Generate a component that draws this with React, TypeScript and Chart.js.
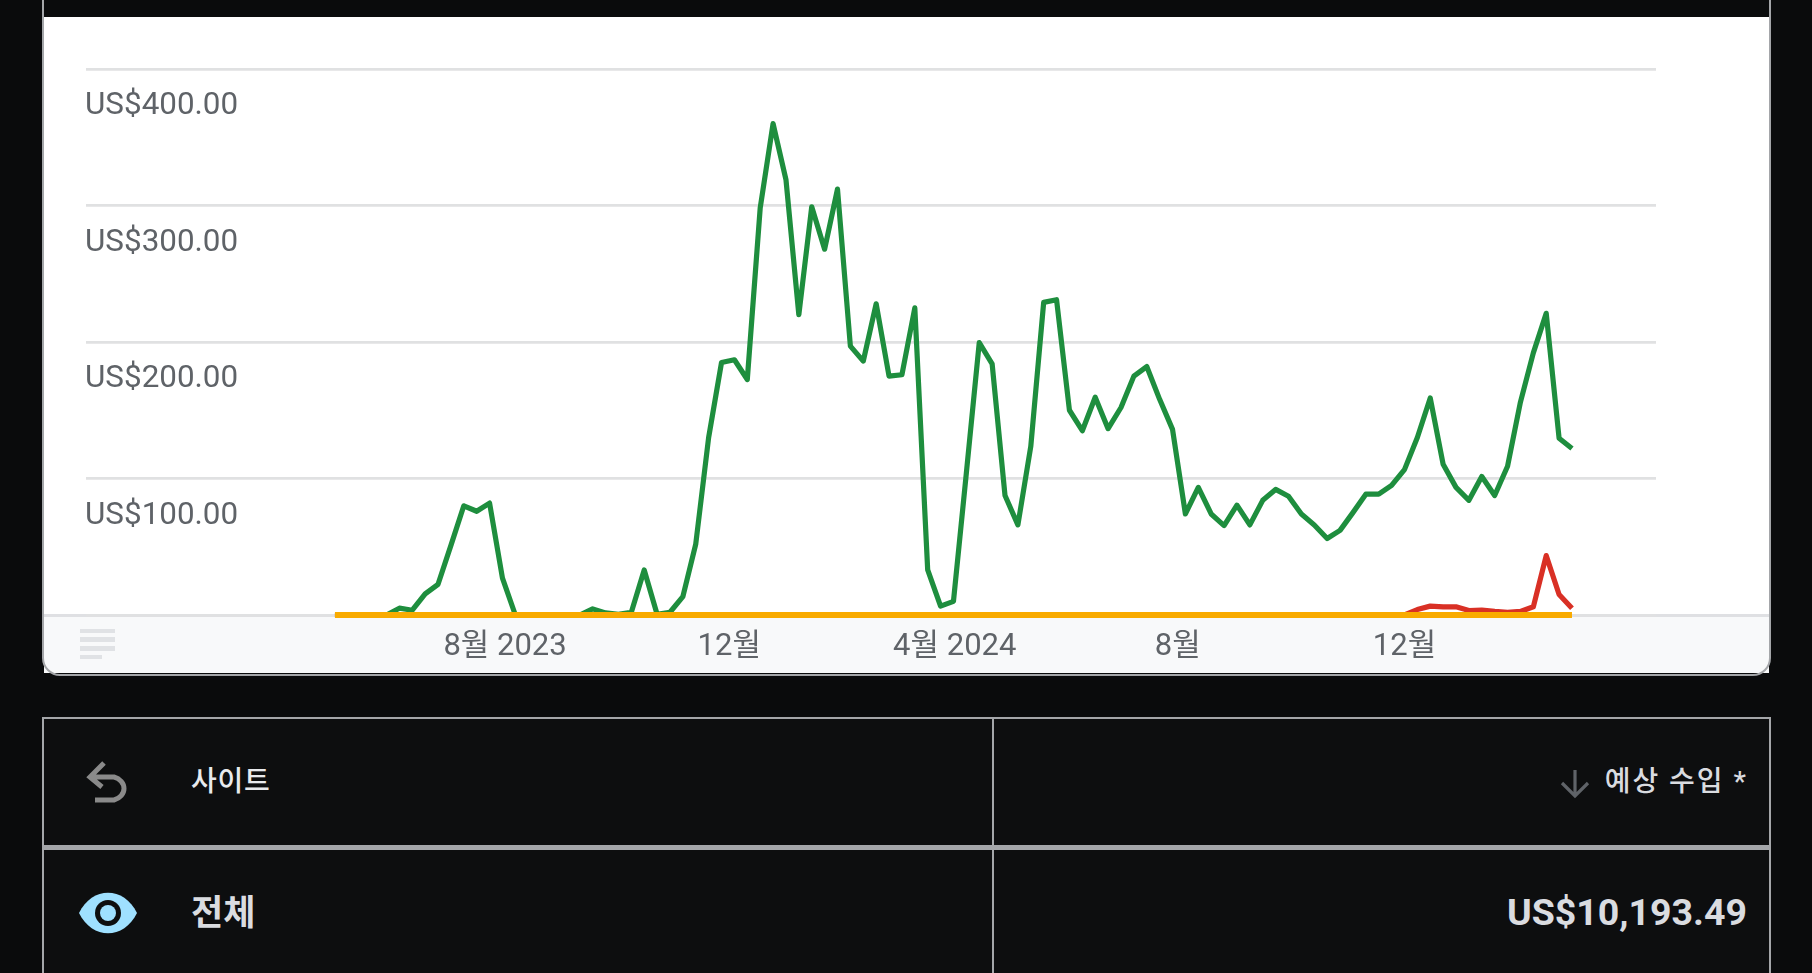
import React, { useEffect, useRef } from "react";
import { Chart, registerables } from "chart.js";

Chart.register(...registerables);

const greenValues = [
  0, 0, 0, 0, 0, 5, 3.5, 15.5, 22.5, 51, 80, 76, 82, 27, 0, 0, 0, 0, 0, 0,
  4.5, 1.5, 0.5, 2, 33, 0.5, 2, 13.5, 52, 130, 185, 187, 172.5, 298, 360, 319, 220, 299, 268, 312,
  197, 186, 228, 175, 176, 225, 33, 6.5, 10, 104, 199.5, 184, 87.5, 66, 123.5, 229, 231, 150, 135, 159.5,
  136.5, 152, 175, 182, 158, 136, 74, 93.5, 74, 65.5, 80.5, 66, 84, 92, 87, 74, 66, 56, 62, 75,
  88.5, 88.5, 95, 106.5, 130, 159, 110.5, 93.5, 84, 101.5, 87.5, 109, 156, 192, 221, 129.5, 122,
];
const redValues = [
  0, 0, 0, 0, 0, 0, 0, 0, 0, 0, 0, 0, 0, 0, 0, 0, 0, 0, 0, 0,
  0, 0, 0, 0, 0, 0, 0, 0, 0, 0, 0, 0, 0, 0, 0, 0, 0, 0, 0, 0,
  0, 0, 0, 0, 0, 0, 0, 0, 0, 0, 0, 0, 0, 0, 0, 0, 0, 0, 0, 0,
  0, 0, 0, 0, 0, 0, 0, 0, 0, 0, 0, 0, 0, 0, 0, 0, 0, 0, 0, 0,
  0, 0, 0, 0, 4, 6.5, 6, 6, 3.3, 3.6, 2.6, 2, 2.6, 6, 43.5, 15, 5,
];
const orangeValues = [
  0, 0, 0, 0, 0, 0, 0, 0, 0, 0, 0, 0, 0, 0, 0, 0, 0, 0, 0, 0,
  0, 0, 0, 0, 0, 0, 0, 0, 0, 0, 0, 0, 0, 0, 0, 0, 0, 0, 0, 0,
  0, 0, 0, 0, 0, 0, 0, 0, 0, 0, 0, 0, 0, 0, 0, 0, 0, 0, 0, 0,
  0, 0, 0, 0, 0, 0, 0, 0, 0, 0, 0, 0, 0, 0, 0, 0, 0, 0, 0, 0,
  0, 0, 0, 0, 0, 0, 0, 0, 0, 0, 0, 0, 0, 0, 0, 0, 0,
];
const monthTickWeeks = [13.2, 30.6, 48.1, 65.4, 83];
const monthTickLabels = ["8월 2023", "12월", "4월 2024", "8월", "12월"];
const yTicks = [0, 100, 200, 300, 400];
const yTickLabels = ["", "US$100.00", "US$200.00", "US$300.00", "US$400.00"];
const axisRange = [-19.32, 102.52];

const FONT = "Roboto, 'Noto Sans CJK KR', sans-serif";
const BORDER = "#a4a6a9";

const pts = (a: number[]) => a.map((y, x) => ({ x, y }));

function abs(left: number, top: number, width: number, height: number, extra: React.CSSProperties = {}): React.CSSProperties {
  return { position: "absolute", left, top, width, height, ...extra };
}

export default function App() {
  const ref = useRef<HTMLCanvasElement>(null);
  useEffect(() => {
    const chart = new Chart(ref.current!, {
      type: "line",
      data: {
        datasets: [
          { label: "orange", data: pts(orangeValues), borderColor: "#f9ab00", borderWidth: 6, order: 1 },
          { label: "red", data: pts(redValues), borderColor: "#d93025", borderWidth: 5.2, order: 2 },
          { label: "green", data: pts(greenValues), borderColor: "#1e8e3e", borderWidth: 5.2, order: 3 },
        ].map((d) => ({ ...d, pointRadius: 0, tension: 0, clip: false as any, fill: false, borderJoinStyle: "round" })),
      },
      options: {
        animation: false,
        responsive: false,
        devicePixelRatio: 1,
        layout: { padding: { left: 86, right: 156, top: 69, bottom: 300 } },
        plugins: { legend: { display: false }, tooltip: { enabled: false } },
        events: [],
        scales: {
          x: {
            type: "linear",
            min: axisRange[0],
            max: axisRange[1],
            grid: { display: false },
            border: { display: false },
            afterFit: (s: any) => { s.height = 58; },
            afterBuildTicks: (s: any) => { s.ticks = monthTickWeeks.map((value) => ({ value })); },
            ticks: {
              autoSkip: false,
              maxRotation: 0,
              padding: 6,
              color: "#5f6368",
              font: { family: FONT, size: 31 },
              callback: (v: any) => monthTickLabels[monthTickWeeks.indexOf(v)],
            },
          },
          y: {
            min: 0,
            max: 400,
            grid: { color: "#e0e1e2", lineWidth: 2.8, drawTicks: false },
            border: { display: false },
            afterFit: (s: any) => { s.width = 0; },
            afterBuildTicks: (s: any) => { s.ticks = yTicks.map((value) => ({ value })); },
            ticks: {
              mirror: true,
              padding: -1,
              labelOffset: 37.5,
              color: "#5f6368",
              font: { family: FONT, size: 31.4 },
              callback: (v: any) => yTickLabels[yTicks.indexOf(v)],
            },
          },
        },
      },
    } as any);
    return () => chart.destroy();
  }, []);

  return (
    <div style={{ position: "fixed", inset: 0, overflow: "hidden", background: "#0a0b0c" }}>
      <div style={abs(44, 17, 1725, 656, { background: "#fff" })} />
      <div style={abs(44, 615, 1725, 58, { background: "#f8f9fa" })} />
      <div style={abs(44, 614, 1725, 2.5, { background: "#dfe0e3" })} />
      <div style={abs(42, -30, 1729, 706, { boxSizing: "border-box", border: `2px solid ${BORDER}`, borderRadius: 18 })} />
      {[0, 1, 2, 3].map((i) => (
        <div key={i} style={abs(80, 628.5 + i * 8.8, i === 3 ? 22 : 35, 4.6, { background: "#e0e2e5" })} />
      ))}
      <div style={abs(42, 717, 1728.5, 300, { boxSizing: "border-box", border: `2px solid ${BORDER}`, background: "#0d0e0f" })} />
      <div style={abs(42, 845, 1728.5, 4.5, { background: BORDER })} />
      <div style={abs(992, 717, 2, 300, { background: BORDER })} />
      <svg style={abs(86, 759, 46, 44)} viewBox="0 0 46 44">
        <path d="M18 4 L4 18 L16 28 M5 18 H28 A14 12 0 0 1 28 41 H9" fill="none" stroke="#8a8a8a" strokeWidth="5" />
      </svg>
      <svg style={abs(78, 892, 60, 42)} viewBox="0 0 60 42">
        <path d="M1 21 C14 -6 46 -6 59 21 C46 48 14 48 1 21 Z" fill="#9fe0ff" />
        <circle cx="30" cy="21" r="13" fill="#0d0e0f" />
        <circle cx="30" cy="21" r="8" fill="#9fe0ff" />
      </svg>
      <svg style={abs(1560, 769, 30, 30)} viewBox="0 0 30 30">
        <path d="M15 1 V27 M2 14 L15 27 L28 14" fill="none" stroke="#5f6368" strokeWidth="3.2" />
      </svg>
      <div style={abs(191, 762, 200, 40, { font: `500 28px/40px ${FONT}`, letterSpacing: 0.8, color: "#e8eaed", whiteSpace: "nowrap" })}>사이트</div>
      <div style={abs(191, 890, 200, 48, { font: `700 35px/48px ${FONT}`, color: "#dadce0", whiteSpace: "nowrap" })}>전체</div>
      <div style={abs(1346, 762, 402, 40, { font: `500 28px/40px ${FONT}`, letterSpacing: 2, color: "#dadce0", textAlign: "right", whiteSpace: "pre" })}>예상 수입 *</div>
      <div style={abs(1346, 888, 401, 48, { font: `700 37.5px/48px ${FONT}`, color: "#dadce0", textAlign: "right", whiteSpace: "nowrap" })}>US$10,193.49</div>
      <canvas ref={ref} width={1812} height={973} style={abs(0, 0, 1812, 973, { display: "block" })} />
    </div>
  );
}
